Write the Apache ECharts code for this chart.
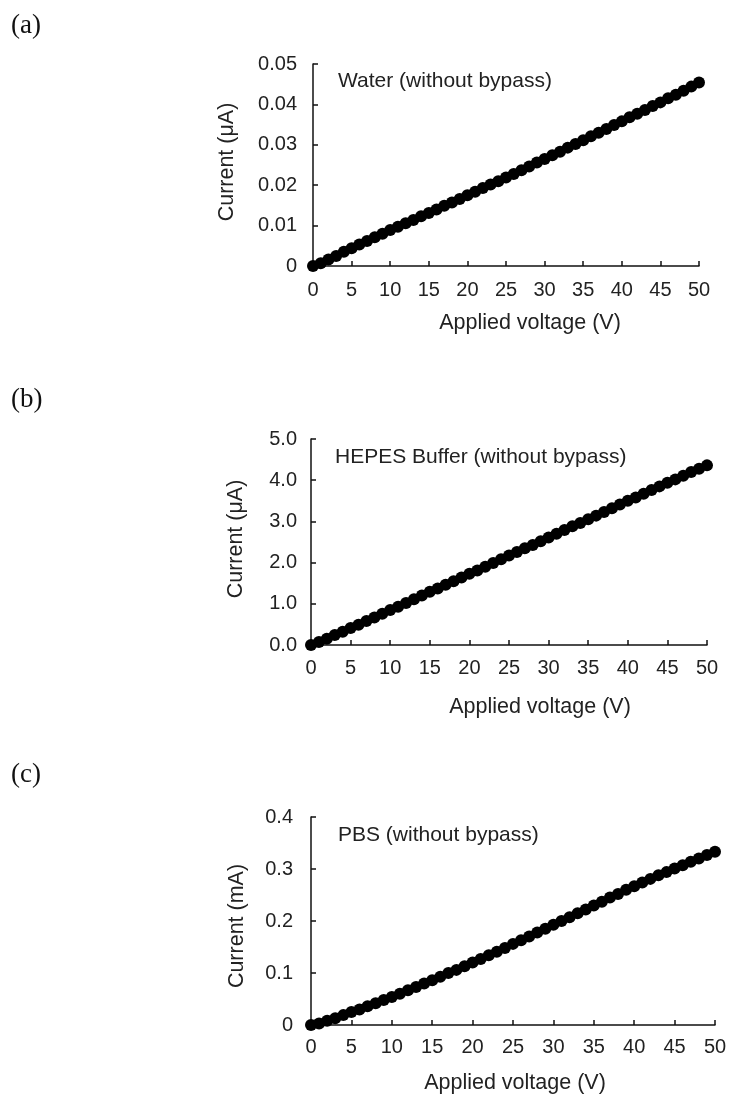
<!DOCTYPE html>
<html><head><meta charset="utf-8">
<script src="https://cdn.jsdelivr.net/npm/echarts@6/dist/echarts.min.js"></script>
<style>html,body{margin:0;padding:0;background:#fff}#c{width:738px;height:1099px}</style>
</head><body><div id="c"></div>
<script>
const voltage = Array.from({length:51},(_,i)=>i);
const waterCurrent = [0,0.0007,0.0016,0.0025,0.0035,0.0044,0.0053,0.0062,0.0071,0.0080,0.0089,0.0097,0.0106,0.0114,0.0123,0.0131,0.0140,0.0149,0.0157,0.0166,0.0175,0.0184,0.0193,0.0202,0.0210,0.0219,0.0228,0.0237,0.0246,0.0256,0.0265,0.0274,0.0283,0.0293,0.0302,0.0311,0.0321,0.0330,0.0339,0.0349,0.0358,0.0368,0.0377,0.0386,0.0396,0.0405,0.0415,0.0424,0.0434,0.0444,0.0454];
const hepesCurrent = [0,0.07,0.15,0.24,0.32,0.41,0.49,0.58,0.67,0.76,0.85,0.93,1.02,1.11,1.20,1.29,1.37,1.46,1.55,1.64,1.73,1.81,1.90,1.99,2.08,2.17,2.26,2.35,2.43,2.52,2.61,2.70,2.79,2.88,2.96,3.05,3.14,3.23,3.32,3.41,3.50,3.58,3.67,3.76,3.85,3.94,4.02,4.11,4.20,4.28,4.36];
const pbsCurrent = [0,0.003,0.008,0.013,0.019,0.025,0.030,0.036,0.042,0.048,0.054,0.060,0.067,0.073,0.080,0.086,0.093,0.100,0.106,0.113,0.120,0.127,0.134,0.141,0.148,0.156,0.163,0.170,0.178,0.185,0.193,0.200,0.207,0.215,0.222,0.230,0.237,0.245,0.252,0.260,0.267,0.274,0.281,0.288,0.294,0.301,0.307,0.314,0.320,0.327,0.333];
const panelLabels = ['(a)','(b)','(c)'];
const annotations = ['Water (without bypass)','HEPES Buffer (without bypass)','PBS (without bypass)'];
const yNames = ['Current (\u03bcA)','Current (\u03bcA)','Current (mA)'];
const xName = 'Applied voltage (V)';
const yMax = [0.05, 5.0, 0.4];
const yStep = [0.01, 1.0, 0.1];
const yDecimals = [-1, 1, -1];
const series = [waterCurrent, hepesCurrent, pbsCurrent];

const grids = [
  {left:313, top:64, width:386, height:202},
  {left:311, top:439, width:396, height:206},
  {left:311, top:817, width:404, height:208}
];
const labelCY = [26, 400, 775];
const annPos = [[338,81],[335,457],[338,835]];
const xNamePos = [[530,323],[540,707],[515,1083]];
const yNamePos = [[227,162],[236,539],[237,926]];
const xLabelMargin = [14,13,12];
const yLabelMargin = [16,14,18];
const FONT = 'Liberation Sans, Arial, sans-serif';
const TXT = '#222';

const chart = echarts.init(document.getElementById('c'), null, {renderer:'canvas'});
const option = {
  animation:false,
  backgroundColor:'#fff',
  grid: grids,
  xAxis: grids.map((g,i)=>({
    gridIndex:i, type:'value', min:0, max:50, interval:5,
    axisLine:{lineStyle:{color:'#111',width:1.5}},
    axisTick:{inside:true,length:5,lineStyle:{color:'#111',width:1.5}},
    axisLabel:{fontFamily:FONT,fontSize:20,color:TXT,margin:xLabelMargin[i]},
    splitLine:{show:false}
  })),
  yAxis: grids.map((g,i)=>({
    gridIndex:i, type:'value', min:0, max:yMax[i], interval:yStep[i],
    axisLine:{show:true,lineStyle:{color:'#111',width:1.5}},
    axisTick:{show:true,inside:true,length:5,lineStyle:{color:'#111',width:1.5}},
    axisLabel:{fontFamily:FONT,fontSize:20,color:TXT,margin:yLabelMargin[i],
      formatter: v => yDecimals[i] > 0 ? v.toFixed(yDecimals[i]) : String(+v.toFixed(4))},
    splitLine:{show:false}
  })),
  series: series.map((d,i)=>({
    type:'line', xAxisIndex:i, yAxisIndex:i,
    data: voltage.map((v,k)=>[v,d[k]]),
    symbol:'circle', symbolSize:12, showSymbol:true,
    itemStyle:{color:'#000'}, lineStyle:{color:'#000',width:3},
    clip:false
  })),
  graphic: [
    ...panelLabels.map((t,i)=>({type:'text', x:11, y:labelCY[i],
      style:{text:t, font:'27px "Liberation Serif", "Times New Roman", serif', fill:'#111', textVerticalAlign:'middle'}})),
    ...annotations.map((t,i)=>({type:'text', x:annPos[i][0], y:annPos[i][1],
      style:{text:t, font:'21px "Liberation Sans", Arial, sans-serif', fill:TXT, textVerticalAlign:'middle'}})),
    ...xNamePos.map((p,i)=>({type:'text', x:p[0], y:p[1],
      style:{text:xName, font:'21.5px "Liberation Sans", Arial, sans-serif', fill:TXT, textAlign:'center', textVerticalAlign:'middle'}})),
    ...yNamePos.map((p,i)=>({type:'text', x:p[0], y:p[1], rotation:Math.PI/2,
      style:{text:yNames[i], font:'21.5px "Liberation Sans", Arial, sans-serif', fill:TXT, textAlign:'center', textVerticalAlign:'middle'}}))
  ]
};
chart.setOption(option);
</script>
</body></html>
